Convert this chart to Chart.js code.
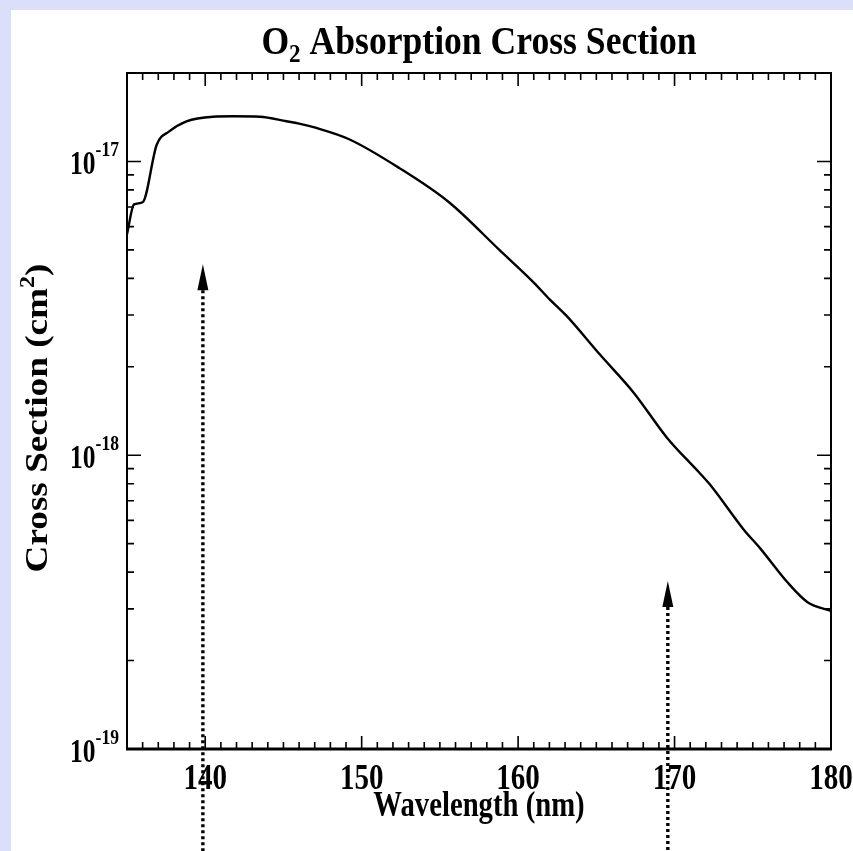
<!DOCTYPE html>
<html lang="en">
<head>
    <meta charset="UTF-8">
    <title>O2 Absorption Cross Section</title>
    <script src="https://cdn.jsdelivr.net/npm/chart.js"></script>
    <style>
        html, body { margin: 0; padding: 0; background: #dcdff9; }
        #panel { position: absolute; left: 11px; top: 10px; width: 842px; height: 841px; background: #fff; }
        canvas { display: block; }
    </style>
</head>
<body>
    <div id="panel">
        <canvas id="o2Chart" width="842" height="841"></canvas>
    </div>

    <script>
// Section efficace d'absorption de O2 (cm^2) en fonction de la longueur d'onde (nm)
const wavelength = [135.0, 135.45, 136.0, 136.9, 137.7, 138.8, 140.5, 141.8, 143.5, 145.2, 146.0, 147.1,
    149.2, 152.4, 155.6, 158.8, 161.0, 162.0, 163.1, 165.2, 167.4, 169.5, 171.6, 172.3, 174.4, 175.5,
    177.2, 178.5, 180.0];
const crossSection = [5.65e-18, 7.14e-18, 7.26e-18, 1.14e-17, 1.265e-17, 1.37e-17, 1.42e-17, 1.425e-17,
    1.42e-17, 1.37e-17, 1.345e-17, 1.30e-17, 1.19e-17, 9.5e-18, 7.25e-18, 5.0e-18, 3.87e-18, 3.4e-18,
    2.98e-18, 2.21e-18, 1.63e-18, 1.15e-18, 8.7e-19, 7.9e-19, 5.6e-19, 4.8e-19, 3.7e-19, 3.16e-19, 2.95e-19];

// Flèches pointillées : longueur d'onde et hauteur de la pointe
const arrowWavelength = [139.85, 169.57];
const arrowTip = [4.47e-18, 3.73e-19];

// Graduations
const xMajorTicks = [140, 150, 160, 170, 180];
const yDecades = [1e-19, 1e-18, 1e-17];
const yExponents = ['-19', '-18', '-17'];

const FONT = '"Liberation Serif", "Times New Roman", serif';

// Texte compressé horizontalement (comme la figure d'origine)
function drawText(ctx, str, x, y, size, sx, align) {
    ctx.save();
    ctx.translate(x, y);
    ctx.scale(sx, 1);
    ctx.font = 'bold ' + size + 'px ' + FONT;
    ctx.textAlign = align || 'left';
    ctx.textBaseline = 'alphabetic';
    ctx.fillText(str, 0, 0);
    ctx.restore();
}

function textWidth(ctx, str, size, sx) {
    ctx.save();
    ctx.font = 'bold ' + size + 'px ' + FONT;
    const w = ctx.measureText(str).width * sx;
    ctx.restore();
    return w;
}

const framePlugin = {
    id: 'frame',
    afterDraw(chart) {
        const ctx = chart.ctx;
        const area = chart.chartArea;
        const xs = chart.scales.x;
        const ys = chart.scales.y;
        ctx.save();
        ctx.fillStyle = '#000';
        ctx.strokeStyle = '#000';

        // cadre
        ctx.lineWidth = 2;
        ctx.strokeRect(area.left, area.top, area.right - area.left, area.bottom - area.top);
        ctx.lineWidth = 3;
        ctx.beginPath();
        ctx.moveTo(area.left - 1, area.bottom);
        ctx.lineTo(area.right + 1, area.bottom);
        ctx.stroke();

        // graduations x (haut et bas, vers l'intérieur)
        ctx.lineWidth = 1.6;
        for (let v = xs.min; v <= xs.max; v++) {
            const px = xs.getPixelForValue(v);
            const len = xMajorTicks.includes(v) ? 13 : 7;
            ctx.beginPath();
            ctx.moveTo(px, area.bottom);
            ctx.lineTo(px, area.bottom - len);
            ctx.moveTo(px, area.top);
            ctx.lineTo(px, area.top + len);
            ctx.stroke();
        }

        // graduations y logarithmiques (gauche et droite)
        yDecades.forEach(dec => {
            for (let m = 1; m <= 9; m++) {
                const v = m * dec;
                if (v > ys.max * 1.0001) break;
                const py = ys.getPixelForValue(v);
                const len = m === 1 ? 14 : 7;
                ctx.beginPath();
                ctx.moveTo(area.left, py);
                ctx.lineTo(area.left + len, py);
                ctx.moveTo(area.right, py);
                ctx.lineTo(area.right - len, py);
                ctx.stroke();
            }
        });

        // étiquettes x
        xMajorTicks.forEach(v => {
            drawText(ctx, String(v), xs.getPixelForValue(v), area.bottom + 40, 35, 0.83, 'center');
        });

        // étiquettes y : 10^n
        yDecades.forEach((dec, i) => {
            const py = ys.getPixelForValue(dec);
            const supW = textWidth(ctx, yExponents[i], 22, 0.8);
            const right = area.left - 8;
            drawText(ctx, yExponents[i], right, py - 5, 22, 0.8, 'right');
            drawText(ctx, '10', right - supW, py + 13, 34, 0.75, 'right');
        });

        // titre de l'axe x
        drawText(ctx, 'Wavelength (nm)', (area.left + area.right) / 2, area.bottom + 67, 35, 0.82, 'center');

        // titre de l'axe y (vertical, avec exposant)
        ctx.save();
        ctx.translate(36, (area.top + area.bottom) / 2 + 7);
        ctx.rotate(-Math.PI / 2);
        const ySize = 31, ySx = 1.2;
        const main = 'Cross Section (cm';
        const wMain = textWidth(ctx, main, ySize, ySx);
        const wSup = textWidth(ctx, '2', 20, ySx);
        const wEnd = textWidth(ctx, ')', ySize, ySx);
        let x0 = -(wMain + wSup + wEnd) / 2;
        drawText(ctx, main, x0, 0, ySize, ySx, 'left');
        drawText(ctx, '2', x0 + wMain, -13, 20, ySx, 'left');
        drawText(ctx, ')', x0 + wMain + wSup, 0, ySize, ySx, 'left');
        ctx.restore();

        // titre principal O2
        const tSize = 40, tSx = 0.89;
        const wO = textWidth(ctx, 'O', tSize, tSx);
        const w2 = textWidth(ctx, '2', 26, tSx);
        const rest = ' Absorption Cross Section';
        const wRest = textWidth(ctx, rest, tSize, tSx);
        let tx = (area.left + area.right) / 2 - (wO + w2 + wRest) / 2;
        const ty = area.top - 19;
        drawText(ctx, 'O', tx, ty, tSize, tSx, 'left');
        drawText(ctx, '2', tx + wO, ty + 8, 26, tSx, 'left');
        drawText(ctx, rest, tx + wO + w2, ty, tSize, tSx, 'left');

        // flèches pointillées
        arrowWavelength.forEach((wl, i) => {
            const px = xs.getPixelForValue(wl);
            const tipY = ys.getPixelForValue(arrowTip[i]);
            ctx.save();
            ctx.lineWidth = 3.4;
            ctx.setLineDash([3, 3]);
            ctx.beginPath();
            ctx.moveTo(px, tipY + 26);
            ctx.lineTo(px, chart.height);
            ctx.stroke();
            ctx.restore();
            ctx.beginPath();
            ctx.moveTo(px, tipY);
            ctx.lineTo(px - 5.5, tipY + 26);
            ctx.lineTo(px + 5.5, tipY + 26);
            ctx.closePath();
            ctx.fill();
        });
        ctx.restore();
    }
};

const ctx = document.getElementById('o2Chart').getContext('2d');
const o2Chart = new Chart(ctx, {
    type: 'line',
    data: {
        datasets: [{
            label: 'O2',
            data: wavelength.map((w, i) => ({ x: w, y: crossSection[i] })),
            borderColor: '#000',
            borderWidth: 2.4,
            pointRadius: 0,
            fill: false,
            cubicInterpolationMode: 'monotone'
        }]
    },
    options: {
        responsive: false,
        animation: false,
        layout: { padding: { left: 116, right: 22, top: 63, bottom: 102 } },
        plugins: { legend: { display: false }, tooltip: { enabled: false } },
        scales: {
            x: { type: 'linear', min: 135, max: 180, display: false },
            y: { type: 'logarithmic', min: 1e-19, max: 2e-17, display: false }
        }
    },
    plugins: [framePlugin]
});
    </script>
</body>
</html>
